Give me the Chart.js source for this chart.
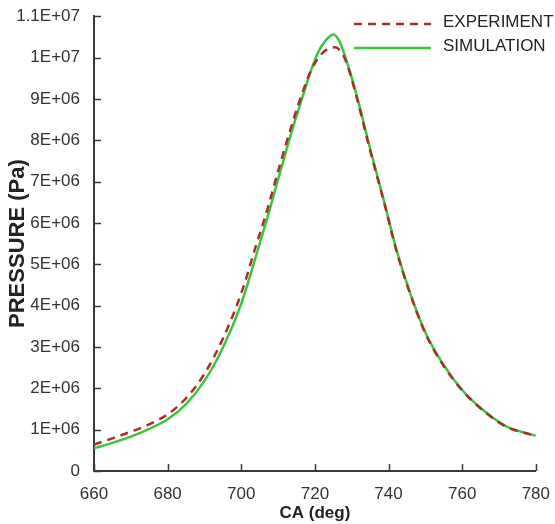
<!DOCTYPE html>
<html>
<head>
<meta charset="utf-8">
<script src="https://cdn.jsdelivr.net/npm/chart.js@4/dist/chart.umd.min.js"></script>
<style>
  html, body { margin: 0; padding: 0; background: #fff; }
  #wrap { width: 555px; height: 524px; }
</style>
</head>
<body>
<div id="wrap"><canvas id="chart" width="555" height="524"></canvas></div>
<script>
// Data
const seriesNames = ["EXPERIMENT", "SIMULATION"];

const expAngle = [660, 665, 670, 675, 680, 685, 690, 695, 700, 704, 707, 710, 714, 717, 719, 721, 723, 725.5, 727, 728.5, 731, 735, 739, 742, 745.5, 750, 755, 760, 766, 772, 780];
const expPressure = [0.64e6, 0.79e6, 0.95e6, 1.13e6, 1.37e6, 1.76e6, 2.35e6, 3.2e6, 4.3e6, 5.45e6, 6.3e6, 7.25e6, 8.45e6, 9.25e6, 9.7e6, 10.0e6, 10.18e6, 10.25e6, 10.15e6, 9.9e6, 9.15e6, 7.75e6, 6.42e6, 5.37e6, 4.38e6, 3.33e6, 2.54e6, 1.95e6, 1.44e6, 1.07e6, 0.85e6];

const simAngle = [660, 665, 670, 675, 680, 685, 690, 695, 700, 704, 707, 710, 714, 717, 719, 721, 723, 725, 726.5, 728, 731, 735, 739, 742, 745.5, 750, 755, 760, 766, 772, 780];
const simPressure = [0.55e6, 0.68e6, 0.83e6, 1.02e6, 1.25e6, 1.62e6, 2.18e6, 2.98e6, 4.05e6, 5.2e6, 6.1e6, 7.05e6, 8.3e6, 9.15e6, 9.7e6, 10.15e6, 10.42e6, 10.56e6, 10.42e6, 10.08e6, 9.2e6, 7.8e6, 6.45e6, 5.4e6, 4.4e6, 3.35e6, 2.56e6, 1.96e6, 1.45e6, 1.08e6, 0.85e6];

const xTickLabels = ["660", "680", "700", "720", "740", "760", "780"];
const yTickLabels = ["0", "1E+06", "2E+06", "3E+06", "4E+06", "5E+06", "6E+06", "7E+06", "8E+06", "9E+06", "1E+07", "1.1E+07"];

const sans = "'Liberation Sans', Arial, sans-serif";
const axisColor = "#3a3a3a";

// inward tick marks, drawn from the scales' own tick positions
const innerTicks = {
    id: "innerTicks",
    afterDatasetsDraw(chart) {
        const ctx = chart.ctx;
        const { x, y } = chart.scales;
        const area = chart.chartArea;
        ctx.save();
        ctx.strokeStyle = axisColor;
        ctx.lineWidth = 1.5;
        ctx.beginPath();
        x.ticks.forEach(t => {
            const px = Math.round(x.getPixelForValue(t.value)) + 0.5;
            ctx.moveTo(px, area.bottom);
            ctx.lineTo(px, area.bottom - 7);
        });
        y.ticks.forEach(t => {
            const py = Math.round(y.getPixelForValue(t.value)) + 0.5;
            ctx.moveTo(area.left, py);
            ctx.lineTo(area.left + 7, py);
        });
        ctx.stroke();
        ctx.restore();
    }
};

// legend in the upper right corner
const cornerLegend = {
    id: "cornerLegend",
    afterDraw(chart) {
        const ctx = chart.ctx;
        const rows = [24, 48];
        ctx.save();
        chart.data.datasets.forEach((ds, i) => {
            ctx.strokeStyle = ds.borderColor;
            ctx.lineWidth = ds.borderWidth;
            ctx.setLineDash(ds.borderDash || []);
            ctx.beginPath();
            ctx.moveTo(354, rows[i]);
            ctx.lineTo(431, rows[i]);
            ctx.stroke();
            ctx.setLineDash([]);
            ctx.fillStyle = "#222";
            ctx.font = "17px " + sans;
            ctx.textBaseline = "middle";
            ctx.fillText(ds.label, 443, rows[i] - 2);
        });
        ctx.restore();
    }
};

const ctx = document.getElementById("chart").getContext("2d");
new Chart(ctx, {
    type: "line",
    data: {
        datasets: [
            {
                label: seriesNames[0],
                data: expAngle.map((a, i) => ({ x: a, y: expPressure[i] })),
                borderColor: "#a3302c",
                borderWidth: 2.5,
                borderDash: [8, 6],
                pointRadius: 0,
                fill: false,
                cubicInterpolationMode: "monotone"
            },
            {
                label: seriesNames[1],
                data: simAngle.map((a, i) => ({ x: a, y: simPressure[i] })),
                borderColor: "#3cc43c",
                borderWidth: 2.5,
                pointRadius: 0,
                fill: false,
                cubicInterpolationMode: "monotone"
            }
        ]
    },
    options: {
        responsive: false,
        animation: false,
        layout: { padding: { top: 16, right: 18, left: 0, bottom: 0 } },
        plugins: {
            legend: { display: false },
            tooltip: { enabled: false }
        },
        scales: {
            x: {
                type: "linear",
                min: 660,
                max: 780,
                grid: { display: false },
                border: { display: true, color: axisColor, width: 2 },
                ticks: {
                    stepSize: 20,
                    color: "#333",
                    padding: 5,
                    maxRotation: 0,
                    font: { family: sans, size: 17 },
                    callback: (v, i) => xTickLabels[i]
                },
                title: {
                    display: true,
                    text: "CA (deg)",
                    color: "#222",
                    padding: { top: -3, bottom: 0 },
                    font: { family: sans, size: 17, weight: "bold" }
                },
                afterFit: s => { s.height = 53; }
            },
            y: {
                min: 0,
                max: 11000000,
                grid: { display: false },
                border: { display: true, color: axisColor, width: 2 },
                ticks: {
                    stepSize: 1000000,
                    color: "#333",
                    padding: 6,
                    font: { family: sans, size: 17 },
                    callback: (v, i) => yTickLabels[i]
                },
                title: {
                    display: true,
                    text: "PRESSURE (Pa)",
                    color: "#222",
                    padding: { top: 5, bottom: 0 },
                    font: { family: sans, size: 22, weight: "bold" }
                },
                afterFit: s => { s.width = 94; }
            }
        }
    },
    plugins: [innerTicks, cornerLegend]
});
</script>
</body>
</html>
